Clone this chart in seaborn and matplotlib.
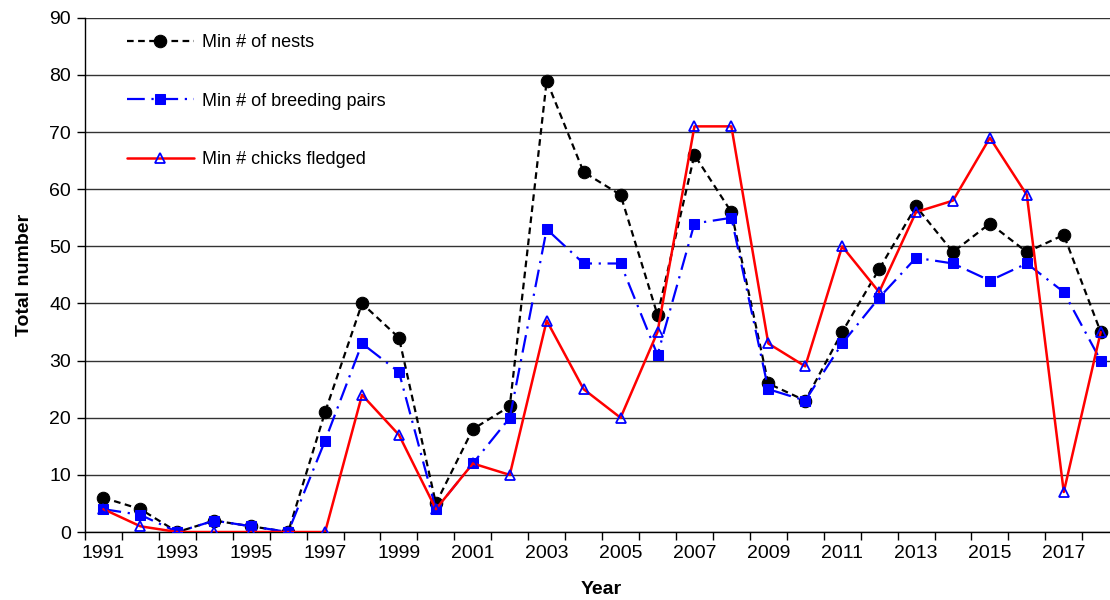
import matplotlib
matplotlib.use('Agg')
import matplotlib.pyplot as plt
import seaborn as sns
from matplotlib.ticker import FixedLocator, MultipleLocator

years = list(range(1991, 2019))
nests = [6, 4, 0, 2, 1, 0, 21, 40, 34, 5, 18, 22, 79, 63, 59, 38, 66, 56, 26, 23, 35, 46, 57, 49, 54, 49, 52, 35]
pairs = [4, 3, 0, 2, 1, 0, 16, 33, 28, 4, 12, 20, 53, 47, 47, 31, 54, 55, 25, 23, 33, 41, 48, 47, 44, 47, 42, 30]
chicks = [4, 1, 0, 0, 0, 0, 0, 24, 17, 4, 12, 10, 37, 25, 20, 35, 71, 71, 33, 29, 50, 42, 56, 58, 69, 59, 7, 35]
labels = ['Min # of nests', 'Min # of breeding pairs', 'Min # chicks fledged']

sns.set_style('white')
plt.rcParams['font.family'] = ['Liberation Sans', 'DejaVu Sans']
plt.rcParams['text.color'] = 'black'
plt.rcParams['axes.labelcolor'] = 'black'
plt.rcParams['xtick.color'] = 'black'
plt.rcParams['ytick.color'] = 'black'

fig = plt.figure(figsize=(11.1, 6), dpi=100)
ax = fig.add_axes([0.0766, 0.1133, 0.93, 0.857])

sns.lineplot(x=years, y=nests, ax=ax, color='black', marker='o', markersize=9,
             markeredgecolor='black', linewidth=1.6, label=labels[0], zorder=3)
ax.lines[-1].set_dashes([3, 2])

sns.lineplot(x=years, y=pairs, ax=ax, color='#0000ff', marker='s', markersize=7,
             markeredgecolor='#0000ff', linewidth=1.6, label=labels[1], zorder=4)
ax.lines[-1].set_dashes([8, 3, 1, 3])

sns.lineplot(x=years, y=chicks, ax=ax, color='#ff0000', marker='^', markersize=7,
             markerfacecolor='none', markeredgecolor='#0000ff', markeredgewidth=1.3,
             linewidth=1.8, label=labels[2], zorder=5)

ax.set_xlim(1990.5, 2018.45)
ax.set_ylim(0, 90)
ax.yaxis.set_major_locator(MultipleLocator(10))
ax.grid(axis='y', color='#333333', linewidth=1)
ax.set_axisbelow(True)

# tick marks at year boundaries, labels on odd years
ax.xaxis.set_major_locator(FixedLocator([y + 0.5 for y in range(1990, 2019)]))
ax.xaxis.set_minor_locator(FixedLocator(years[::2]))
ax.set_xticklabels([], minor=False)
ax.set_xticklabels([str(y) for y in years[::2]], minor=True)
ax.tick_params(axis='x', which='major', direction='out', length=6, width=1, color='black', bottom=True)
ax.tick_params(axis='x', which='minor', length=0, labelsize=14, pad=9, labelcolor='black')
ax.tick_params(axis='y', direction='out', length=6, width=1, color='black', left=True,
               labelsize=14, labelcolor='black', pad=4)

for side in ['top', 'right']:
    ax.spines[side].set_visible(False)
for side in ['left', 'bottom']:
    ax.spines[side].set_color('black')
    ax.spines[side].set_linewidth(1)

ax.set_xlabel('Year', fontsize=14, fontweight='bold', labelpad=14, color='black')
ax.set_ylabel('Total number', fontsize=14, fontweight='bold', labelpad=12, color='black')

ax.legend(loc='upper left', bbox_to_anchor=(0.025, 1.0), frameon=False, fontsize=13,
          labelspacing=2.3, handlelength=3.7, handletextpad=0.45)

fig.savefig('out.png', dpi=100)
